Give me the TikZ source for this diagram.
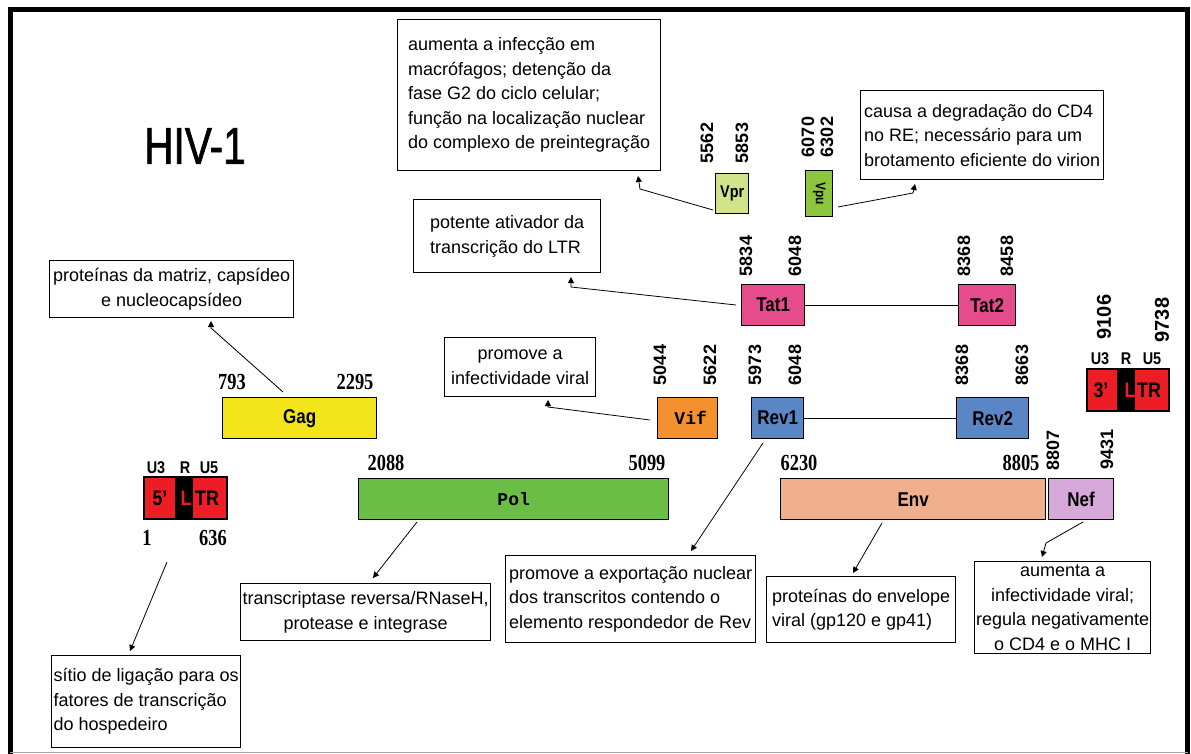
\documentclass[tikz,border=0pt]{standalone}
\usepackage{fontspec}
\setmainfont{Liberation Sans}
\newfontfamily\boxfont{Liberation Sans}
\newfontfamily\genefont{Liberation Sans}[FakeStretch=0.85]
\newfontfamily\genemono{Liberation Mono}
\newfontfamily\numfont{Liberation Serif}[FakeStretch=0.8]
\newfontfamily\rotfont{Liberation Sans}
\newfontfamily\titlefont{Liberation Sans}[FakeStretch=0.78,FakeBold=1.2]
\usetikzlibrary{arrows.meta}
\definecolor{gagc}{HTML}{F2E61A}
\definecolor{polc}{HTML}{6ABD45}
\definecolor{vifc}{HTML}{F5902E}
\definecolor{revc}{HTML}{5B86C5}
\definecolor{tatc}{HTML}{E64C8C}
\definecolor{vprc}{HTML}{D2E38A}
\definecolor{vpuc}{HTML}{8CC63F}
\definecolor{envc}{HTML}{F0B08E}
\definecolor{nefc}{HTML}{D7A8DA}
\definecolor{ltrc}{HTML}{EE1C24}
\begin{document}
\begin{tikzpicture}[x=1pt,y=-1pt,
  desc/.style={draw, line width=1.3pt, anchor=north west, inner sep=0pt,
    font=\boxfont\fontsize{18}{24.5}\selectfont},
  gene/.style={draw, line width=1.3pt, anchor=north west, inner sep=0pt,
    font=\genefont\bfseries\fontsize{20}{20}\selectfont},
  monolabel/.style={font=\genemono\bfseries\fontsize{18}{18}\selectfont},
  hnum/.style={inner sep=0pt, font=\numfont\bfseries\fontsize{23}{23}\selectfont},
  rnum/.style={inner sep=0pt, rotate=90, font=\rotfont\bfseries\fontsize{18}{18}\selectfont},
  ulab/.style={inner sep=0pt, font=\genefont\bfseries\fontsize{17}{17}\selectfont},
  ltrt/.style={inner sep=0pt, font=\genefont\bfseries\fontsize{21}{21}\selectfont},
  link/.style={line width=1.3pt},
  arr/.style={line width=0.8pt, -{Triangle[length=6pt,width=6pt]}}
]
\useasboundingbox (0,0) rectangle (1191,754);
% frame
\draw[line width=5pt] (8,10) -- (1190,10);
\draw[line width=5pt] (10.8,8) -- (10.8,754);
\draw[line width=5pt] (1187.5,8) -- (1187.5,754);
\draw[black!35, line width=1.5pt] (10,752.7) -- (1188,752.7);

% title
\node[inner sep=0pt, font=\titlefont\fontsize{52}{52}\selectfont] (title) at (195,146) {HIV-1};

% description boxes
\node[desc, minimum width=263, minimum height=151, align=left] (bA) at (397,19)
  {aumenta a infecção em\\macrófagos; detenção da\\fase G2 do ciclo celular;\\função na localização nuclear\\do complexo de preintegração};
\node[desc, minimum width=243, minimum height=89, align=left] (bB) at (860,90)
  {causa a degradação do CD4\\no RE; necessário para um\\brotamento eficiente do virion};
\node[desc, minimum width=187, minimum height=73, align=left] (bC) at (413,199)
  {potente ativador da\\transcrição do LTR};
\node[desc, minimum width=244, minimum height=57, align=center] (bD) at (49,260)
  {proteínas da matriz, capsídeo\\e nucleocapsídeo};
\node[desc, minimum width=151, minimum height=59, align=center] (bE) at (444,337)
  {promove a\\infectividade viral};
\node[desc, minimum width=189, minimum height=92, align=left] (bF) at (51,655)
  {sítio de ligação para os\\fatores de transcrição\\do hospedeiro};
\node[desc, minimum width=250, minimum height=57, align=center] (bG) at (240,583)
  {transcriptase reversa/RNaseH,\\protease e integrase};
\node[desc, minimum width=250, minimum height=87, align=left] (bH) at (505,555)
  {promove a exportação nuclear\\dos transcritos contendo o\\elemento respondedor de Rev};
\node[desc, minimum width=189, minimum height=66, align=left] (bI) at (766,576)
  {proteínas do envelope\\viral (gp120 e gp41)};
\node[desc, minimum width=176, minimum height=92, align=center] (bJ) at (974,561)
  {aumenta a\\infectividade viral;\\regula negativamente\\o CD4 e o MHC I};

% genes
\node[gene, fill=gagc, minimum width=154, minimum height=41] (gag) at (222,397) {Gag};
\node[gene, fill=polc, minimum width=310, minimum height=41] (pol) at (358,478) {};
\node[monolabel] at (pol.center) {Pol};
\node[gene, fill=vifc, minimum width=60, minimum height=41] (vif) at (657,397) {};
\node[monolabel] at ([xshift=3pt]vif.center) {Vif};
\node[gene, fill=revc, minimum width=52, minimum height=41] (rev1) at (751,397) {Rev1};
\node[gene, fill=revc, minimum width=72, minimum height=41] (rev2) at (956,397) {Rev2};
\node[gene, fill=tatc, minimum width=63, minimum height=41] (tat1) at (741,284) {Tat1};
\node[gene, fill=tatc, minimum width=57, minimum height=41] (tat2) at (958,284) {Tat2};
\node[gene, fill=vprc, minimum width=33, minimum height=40, font=\genefont\bfseries\fontsize{17}{17}\selectfont] (vpr) at (715,173) {Vpr};
\node[gene, fill=vpuc, minimum width=27, minimum height=46] (vpu) at (805,170) {};
\node[inner sep=0pt, rotate=-90, font=\genefont\bfseries\fontsize{14}{14}\selectfont] at (vpu.center) {Vpu};
\node[gene, fill=envc, minimum width=265, minimum height=41] (env) at (780,478) {Env};
\node[gene, fill=nefc, minimum width=65, minimum height=41] (nef) at (1048,478) {Nef};

\draw[link] (tat1) -- (tat2);
\draw[link] (rev1) -- (rev2);

% 5' LTR
\node[gene, fill=ltrc, minimum width=82, minimum height=41] (ltr5) at (144,477) {};
\fill[black] (175,477) rectangle (193,518);
\draw[line width=1.3pt] (ltr5.north west) rectangle (ltr5.south east);
\node[ltrt] at (160,498) {5’};
\node[ltrt, text=ltrc] at (186,498) {L};
\node[ltrt] at (207,498) {TR};
\node[ulab] at (156,468) {U3};
\node[ulab] at (185,468) {R};
\node[ulab] at (209,468) {U5};

% 3' LTR
\node[gene, fill=ltrc, minimum width=81, minimum height=41] (ltr3) at (1087,369) {};
\fill[black] (1117,369) rectangle (1135,410);
\draw[line width=1.3pt] (ltr3.north west) rectangle (ltr3.south east);
\node[ltrt] at (1101,390) {3’};
\node[ltrt, text=ltrc] at (1130,390) {L};
\node[ltrt] at (1149,390) {TR};
\node[ulab] at (1100,359) {U3};
\node[ulab] at (1126,359) {R};
\node[ulab] at (1152,359) {U5};

% horizontal numbers
\node[hnum] (n793) at (232,382) {793};
\node[hnum] (n2295) at (355,382) {2295};
\node[hnum] (n2088) at (386,463) {2088};
\node[hnum] (n5099) at (647,463) {5099};
\node[hnum] (n6230) at (799,463) {6230};
\node[hnum] (n8805) at (1021,463) {8805};
\node[hnum] (n1) at (147,538) {1};
\node[hnum] (n636) at (213,538) {636};

% rotated numbers
\node[rnum] (n5562) at (707,143) {5562};
\node[rnum] (n5853) at (742,143) {5853};
\node[rnum] (n6070) at (808,137) {6070};
\node[rnum] (n6302) at (827,137) {6302};
\node[rnum] (n5834) at (746,256) {5834};
\node[rnum] (n6048a) at (795,256) {6048};
\node[rnum] (n8368a) at (964,256) {8368};
\node[rnum] (n8458) at (1007,256) {8458};
\node[rnum] (n5044) at (660,365) {5044};
\node[rnum] (n5622) at (710,365) {5622};
\node[rnum] (n5973) at (755,365) {5973};
\node[rnum] (n6048b) at (795,365) {6048};
\node[rnum] (n8368b) at (962,365) {8368};
\node[rnum] (n8663) at (1022,365) {8663};
\node[rnum, font=\rotfont\bfseries\fontsize{20}{20}\selectfont] (n9106) at (1104,317) {9106};
\node[rnum, font=\rotfont\bfseries\fontsize{20}{20}\selectfont] (n9738) at (1162,320) {9738};
\node[rnum] (n8807) at (1053,450) {8807};
\node[rnum] (n9431) at (1107,449) {9431};

% connector coordinates
\coordinate (sVpr) at (713,210);
\coordinate (kVpr) at (640,189);
\coordinate (tVpr) at (638,176);
\coordinate (sVpu) at (838,207);
\coordinate (kVpu) at (913,193);
\coordinate (tVpu) at (915,184);
\coordinate (sTat) at (736,305);
\coordinate (kTat) at (571,287);
\coordinate (tTat) at (571,277);
\coordinate (sGag) at (283,392);
\coordinate (kGag) at (211,328);
\coordinate (tGag) at (211,321);
\coordinate (sVif) at (650,420);
\coordinate (kVif) at (548,407);
\coordinate (tVif) at (548,400);
\coordinate (sLtr) at (167,562);
\coordinate (tLtr) at (130,651);
\coordinate (sPol) at (417,522);
\coordinate (tPol) at (373,578);
\coordinate (sRev) at (763,443);
\coordinate (tRev) at (691,551);
\coordinate (sEnv) at (882,523);
\coordinate (tEnv) at (853,573);
\coordinate (sNef) at (1083,522);
\coordinate (kNef) at (1046,543);
\coordinate (tNef) at (1042,557);

\draw[arr] (sVpr) -- (kVpr) -- (tVpr);
\draw[arr] (sVpu) -- (kVpu) -- (tVpu);
\draw[arr] (sTat) -- (kTat) -- (tTat);
\draw[arr] (sGag) -- (kGag) -- (tGag);
\draw[arr] (sVif) -- (kVif) -- (tVif);
\draw[arr] (sLtr) -- (tLtr);
\draw[arr] (sPol) -- (tPol);
\draw[arr] (sRev) -- (tRev);
\draw[arr] (sEnv) -- (tEnv);
\draw[arr] (sNef) -- (kNef) -- (tNef);
\end{tikzpicture}
\end{document}
